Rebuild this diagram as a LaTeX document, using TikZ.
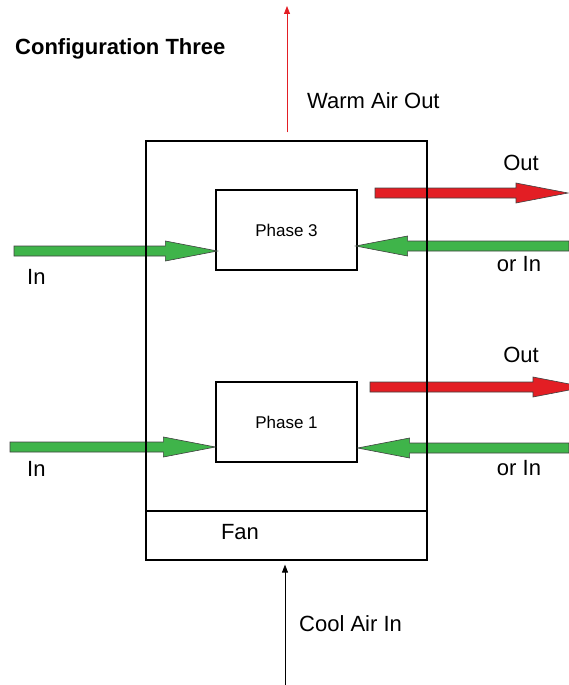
\documentclass[tikz,border=0pt]{standalone}
\usepackage{fontspec}
\setmainfont{Liberation Sans}
\usetikzlibrary{arrows.meta,calc}
\definecolor{airred}{HTML}{E31E24}
\definecolor{airgreen}{HTML}{3FB44A}
\newcommand{\fatarrow}[3]{%
  \filldraw[fat,#1] let \p1=(#2), \p2=(#3), \n1={ifthenelse(\x2>\x1,52,-52)},
    \n2={\x2-(\n1)*1pt} in
    (\x1,\y1+5pt) -- (\n2,\y1+5pt) -- (\n2,\y1+10pt) -- (\x2,\y1)
    -- (\n2,\y1-10pt) -- (\n2,\y1-5pt) -- (\x1,\y1-5pt) -- cycle;}
\begin{document}
\begin{tikzpicture}[
  x=1pt, y=-1pt,
  font=\fontsize{22}{26}\selectfont,
  phase/.style={draw, line width=1.2pt, minimum width=141pt, minimum height=80pt,
                font=\fontsize{17}{20}\selectfont},
  unit/.style={draw, line width=1.2pt, minimum width=281pt},
  lbl/.style={inner sep=0pt},
  fat/.style={draw=black!75, line width=0.6pt},
  air/.style={-{Triangle[length=8pt,width=6pt]}, line width=0.8pt}
]
  \useasboundingbox (0,0) rectangle (569,685);
  \node[phase] (p3) at (286.5,230) {Phase 3};
  \node[phase] (p1) at (286.5,422) {Phase 1};
  \coordinate (in3) at (14,251);
  \coordinate (out3a) at (375,193);
  \coordinate (out3b) at (568,193);
  \coordinate (back3) at (569,246);
  \coordinate (in1) at (10,447);
  \coordinate (out1a) at (370,387);
  \coordinate (out1b) at (585,387);
  \coordinate (back1) at (569,448);
  \fatarrow{fill=airgreen}{in3}{[shift={(2pt,-21pt)}]p3.west}
  \fatarrow{fill=airred}{out3a}{out3b}
  \fatarrow{fill=airgreen}{back3}{[shift={(-2pt,-16pt)}]p3.east}
  \fatarrow{fill=airgreen}{in1}{[yshift=-25pt]p1.west}
  \fatarrow{fill=airred}{out1a}{out1b}
  \fatarrow{fill=airgreen}{back1}{[yshift=-26pt]p1.east}
  \node[unit, minimum height=370pt] (box) at (286.5,326) {};
  \node[unit, minimum height=49pt] (fan) at (286.5,535.5) {};
  \node[lbl] (fanlbl) at (240,532) {Fan};
  \node[lbl, anchor=west, font=\fontsize{22}{26}\selectfont\bfseries] (title) at (15,49) {Configuration Three};
  \coordinate (warm) at (287,6);
  \node[lbl, anchor=west] (warmlbl) at (307,101) {Warm Air Out};
  \draw[air, airred] ([yshift=8pt]box.north -| warm) -- (warm);
  \coordinate (cool) at (285,685);
  \node[lbl, anchor=west] (coollbl) at (299,624) {Cool Air In};
  \draw[air] (cool) -- ([yshift=-4pt]fan.south -| cool);
  \node[lbl, anchor=west] (in3lbl) at (27,277) {In};
  \node[lbl, anchor=west] (in1lbl) at (27,469) {In};
  \node[lbl] (out3lbl) at (521,163) {Out};
  \node[lbl] (out1lbl) at (521,355) {Out};
  \node[lbl] (or3lbl) at (519,264) {or In};
  \node[lbl] (or1lbl) at (519,468) {or In};
\end{tikzpicture}
\end{document}
